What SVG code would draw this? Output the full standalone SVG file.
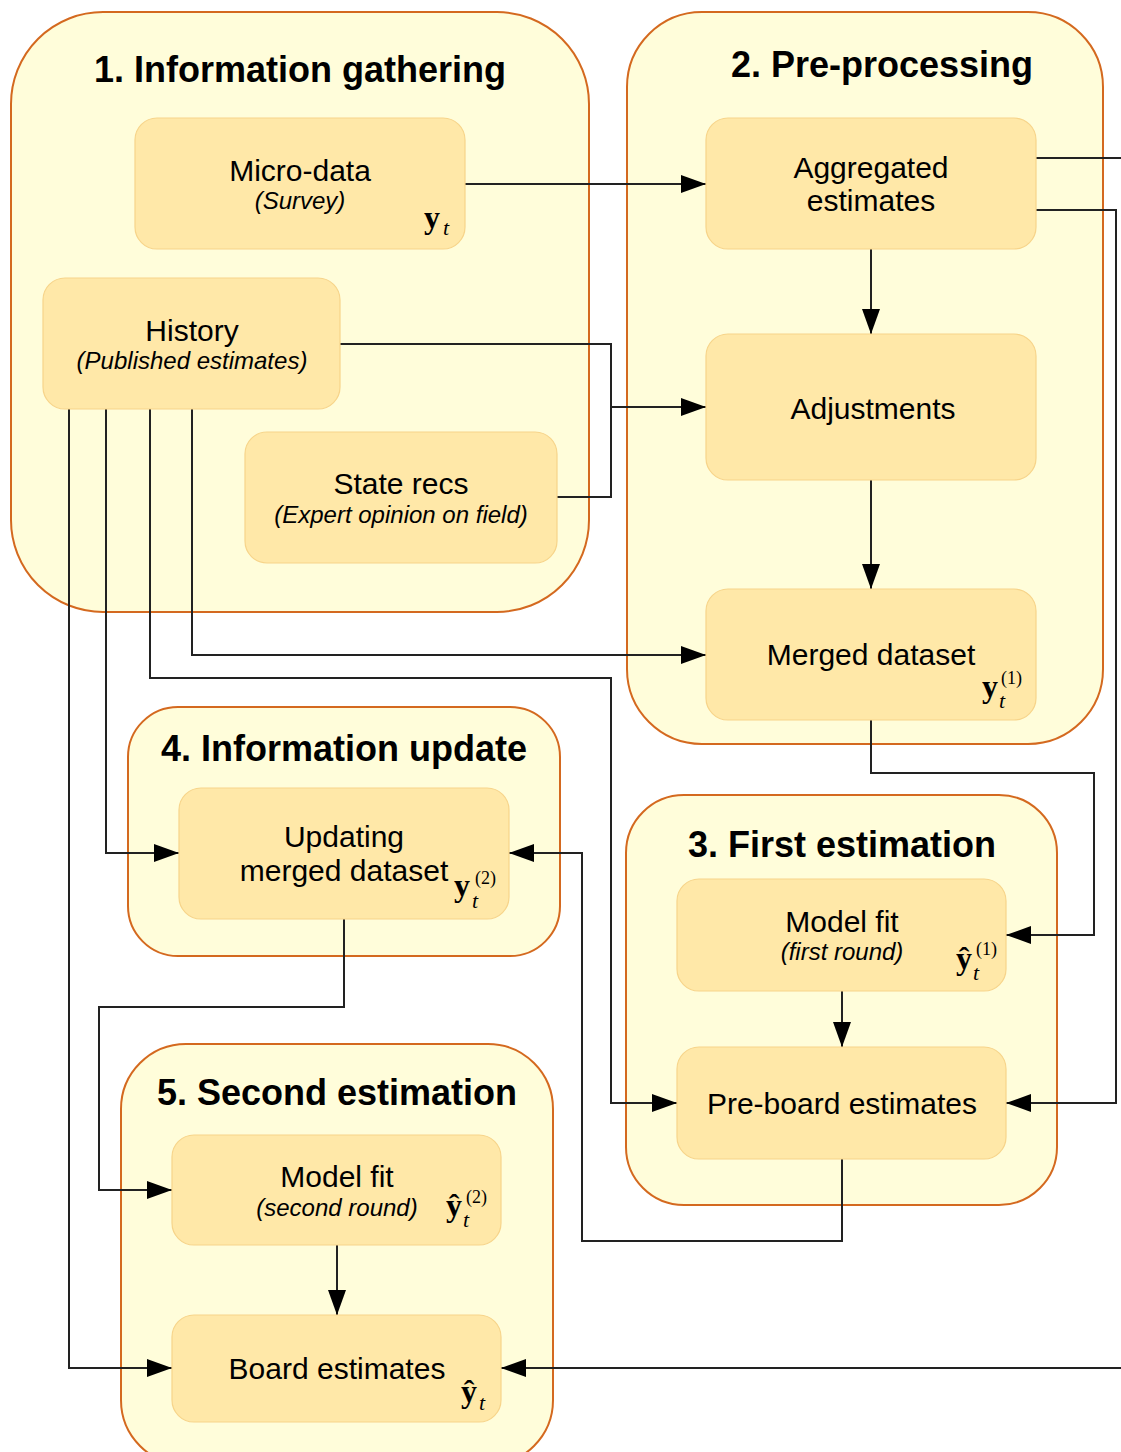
<svg xmlns="http://www.w3.org/2000/svg" width="1121" height="1452" viewBox="0 0 1121 1452">
<defs>
<marker id="arr" markerUnits="userSpaceOnUse" markerWidth="26" markerHeight="18" refX="25" refY="9" orient="auto">
<path d="M0,0 L25,9 L0,18 z" fill="#000"/>
</marker>
<style>
.cont{fill:#FFFDDA;stroke:#D4691F;stroke-width:2}
.node{fill:#FFE8A8;stroke:#F7D48A;stroke-width:1.2}
.title{font-family:"Liberation Sans",Arial,sans-serif;font-weight:bold;font-size:36px;text-anchor:middle;fill:#000}
.lbl{font-family:"Liberation Sans",Arial,sans-serif;font-size:30px;text-anchor:middle;fill:#000}
.sub{font-family:"Liberation Sans",Arial,sans-serif;font-style:italic;font-size:24px;text-anchor:middle;fill:#000}
.my{font-family:"Liberation Serif","Times New Roman",serif;font-weight:bold;font-size:32px;fill:#000}
.mt{font-family:"Liberation Serif","Times New Roman",serif;font-style:italic;font-size:22px;fill:#000}
.ms{font-family:"Liberation Serif","Times New Roman",serif;font-size:18px;fill:#000}
.edge{fill:none;stroke:#222;stroke-width:2}
</style>
</defs>
<rect width="1121" height="1452" fill="#fff"/>

<g id="c1"><rect class="cont" x="11" y="12" width="578" height="600" rx="92"/><text class="title" x="300" y="82">1. Information gathering</text></g>
<g id="c2"><rect class="cont" x="627" y="12" width="476" height="732" rx="75"/><text class="title" x="882" y="77">2. Pre-processing</text></g>
<g id="c4"><rect class="cont" x="128" y="707" width="432" height="249" rx="50"/><text class="title" x="344" y="761">4. Information update</text></g>
<g id="c3"><rect class="cont" x="626" y="795" width="431" height="410" rx="58"/><text class="title" x="842" y="857">3. First estimation</text></g>
<g id="c5"><rect class="cont" x="121" y="1044" width="432" height="421" rx="65"/><text class="title" x="337" y="1105">5. Second estimation</text></g>

<g id="connectors">
<path class="edge" d="M465,184 H706" marker-end="url(#arr)"/>
<path class="edge" d="M340,344 H611 V497 H557"/>
<path class="edge" d="M611,407 H706" marker-end="url(#arr)"/>
<path class="edge" d="M871,249 V334" marker-end="url(#arr)"/>
<path class="edge" d="M871,480 V589" marker-end="url(#arr)"/>
<path class="edge" d="M1036,158 H1121"/>
<path class="edge" d="M1036,210 H1116 V1103 H1006" marker-end="url(#arr)"/>
<path class="edge" d="M69,409 V1368 H172" marker-end="url(#arr)"/>
<path class="edge" d="M106,409 V853 H179" marker-end="url(#arr)"/>
<path class="edge" d="M150,409 V678 H611 V1103 H677" marker-end="url(#arr)"/>
<path class="edge" d="M192,409 V655 H706" marker-end="url(#arr)"/>
<path class="edge" d="M871,720 V773 H1094 V935 H1006" marker-end="url(#arr)"/>
<path class="edge" d="M842,991 V1047" marker-end="url(#arr)"/>
<path class="edge" d="M842,1159 V1241 H582 V853 H509" marker-end="url(#arr)"/>
<path class="edge" d="M344,919 V1007 H99 V1190 H172" marker-end="url(#arr)"/>
<path class="edge" d="M337,1245 V1315" marker-end="url(#arr)"/>
<path class="edge" d="M1121,1368 H501" marker-end="url(#arr)"/>
</g>

<g id="microdata"><rect class="node" x="135" y="118" width="330" height="131" rx="22"/>
<text class="lbl" x="300" y="181">Micro-data</text><text class="sub" x="300" y="209">(Survey)</text>
<text class="my" x="424" y="228">y</text><text class="mt" x="443" y="235">t</text></g>

<g id="history"><rect class="node" x="43" y="278" width="297" height="131" rx="22"/>
<text class="lbl" x="192" y="341">History</text><text class="sub" x="192" y="369">(Published estimates)</text></g>

<g id="staterecs"><rect class="node" x="245" y="432" width="312" height="131" rx="22"/>
<text class="lbl" x="401" y="494">State recs</text><text class="sub" x="401" y="523">(Expert opinion on field)</text></g>

<g id="aggregated"><rect class="node" x="706" y="118" width="330" height="131" rx="22"/>
<text class="lbl" x="871" y="178">Aggregated</text><text class="lbl" x="871" y="211">estimates</text></g>

<g id="adjustments"><rect class="node" x="706" y="334" width="330" height="146" rx="22"/>
<text class="lbl" x="873" y="419">Adjustments</text></g>

<g id="merged"><rect class="node" x="706" y="589" width="330" height="131" rx="22"/>
<text class="lbl" x="871" y="665">Merged dataset</text>
<text class="my" x="982" y="697">y</text><text class="mt" x="999" y="708">t</text><text class="ms" x="1001" y="684">(1)</text></g>

<g id="updating"><rect class="node" x="179" y="788" width="330" height="131" rx="22"/>
<text class="lbl" x="344" y="847">Updating</text><text class="lbl" x="344" y="881">merged dataset</text>
<text class="my" x="454" y="896">y</text><text class="mt" x="472" y="908">t</text><text class="ms" x="475" y="884">(2)</text></g>

<g id="modelfit1"><rect class="node" x="677" y="879" width="329" height="112" rx="22"/>
<text class="lbl" x="842" y="932">Model fit</text><text class="sub" x="842" y="960">(first round)</text>
<text class="my" x="956" y="969">ŷ</text><text class="mt" x="973" y="980">t</text><text class="ms" x="976" y="955">(1)</text></g>

<g id="preboard"><rect class="node" x="677" y="1047" width="329" height="112" rx="22"/>
<text class="lbl" x="842" y="1114">Pre-board estimates</text></g>

<g id="modelfit2"><rect class="node" x="172" y="1135" width="329" height="110" rx="22"/>
<text class="lbl" x="337" y="1187">Model fit</text><text class="sub" x="337" y="1216">(second round)</text>
<text class="my" x="446" y="1216">ŷ</text><text class="mt" x="463" y="1227">t</text><text class="ms" x="466" y="1203">(2)</text></g>

<g id="board"><rect class="node" x="172" y="1315" width="329" height="107" rx="22"/>
<text class="lbl" x="337" y="1379">Board estimates</text>
<text class="my" x="461" y="1402">ŷ</text><text class="mt" x="479" y="1410">t</text></g>
</svg>
